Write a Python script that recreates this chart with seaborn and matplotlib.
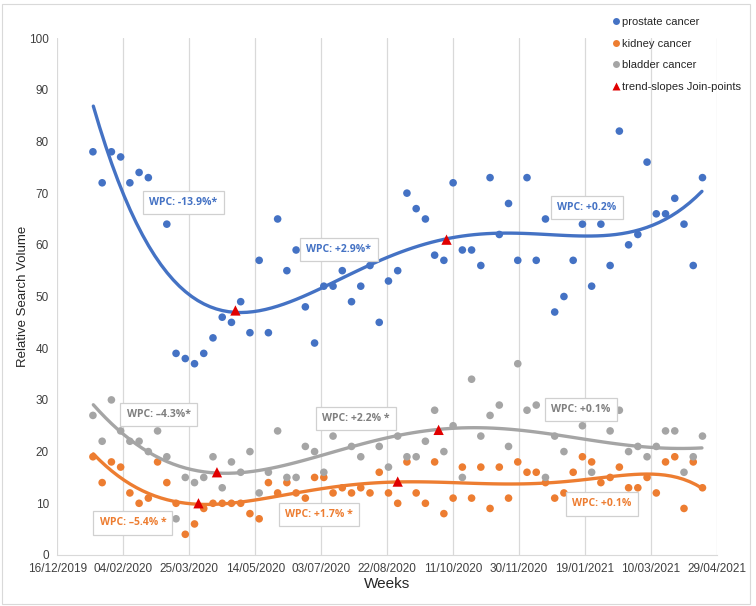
import pandas as pd
import matplotlib
matplotlib.use("Agg")
import matplotlib.pyplot as plt
from matplotlib.lines import Line2D
import seaborn as sns

# Weekly relative search volume, first week starts 12/01/2020
first_week = "2020-01-12"
prostate = [78, 72, 78, 77, 72, 74, 73, 68, 64, 39, 38, 37, 39, 42, 46, 45, 49, 43, 57, 43,
            65, 55, 59, 48, 41, 52, 52, 55, 49, 52, 56, 45, 53, 55, 70, 67, 65, 58, 57, 72,
            59, 59, 56, 73, 62, 68, 57, 73, 57, 65, 47, 50, 57, 64, 52, 64, 56, 82, 60, 62,
            76, 66, 66, 69, 64, 56, 73]
kidney = [19, 14, 18, 17, 12, 10, 11, 18, 14, 10, 4, 6, 9, 10, 10, 10, 10, 8, 7, 14,
          12, 14, 12, 11, 15, 15, 12, 13, 12, 13, 12, 16, 12, 10, 18, 12, 10, 18, 8, 11,
          17, 11, 17, 9, 17, 11, 18, 16, 16, 14, 11, 12, 16, 19, 18, 14, 15, 17, 13, 13,
          15, 12, 18, 19, 9, 18, 13]
bladder = [27, 22, 30, 24, 22, 22, 20, 24, 19, 7, 15, 14, 15, 19, 13, 18, 16, 20, 12, 16,
           24, 15, 15, 21, 20, 16, 23, 27, 21, 19, 25, 21, 17, 23, 19, 19, 22, 28, 20, 25,
           15, 34, 23, 27, 29, 21, 37, 28, 29, 15, 23, 20, 27, 25, 16, 28, 24, 28, 20, 21,
           19, 21, 24, 24, 16, 19, 23]

# Trend curves (day since 16/12/2019, value)
trend_prostate_day = [27.3, 40, 50, 62.7, 75.3, 100, 135.4, 176.3, 201.8, 236.9, 295.5,
                      341.4, 405.8, 439.7, 461.6, 481.6, 488.6]
trend_prostate = [86.6, 77.5, 68.8, 63.2, 57.5, 50, 47.3, 48.5, 52.1, 56.2, 61,
                  62.3, 62, 62.3, 65.3, 68.8, 70.2]
trend_bladder_day = [27.3, 48.3, 69.2, 89.2, 104.3, 121, 139.2, 159.8, 180.1, 201.5, 226.8,
                     252, 289.9, 315.2, 335.4, 356.8, 382.1, 407.3, 432.6, 452.8, 473, 488.6]
trend_bladder = [28.8, 24.4, 19.7, 17.1, 16.3, 15.9, 15.9, 16.8, 18.1, 19.4, 21,
                 22.7, 24.2, 24.6, 24.6, 24.1, 23.1, 22, 21.1, 20.9, 20.6, 20.7]
trend_kidney_day = [27.3, 48.3, 69.2, 90.5, 106.8, 127, 147.3, 172.5, 201.5, 226.8, 258.3,
                    289.9, 335.4, 369.5, 407.3, 437.7, 450.3, 473, 488.6]
trend_kidney = [19.4, 15.2, 12, 10, 9.7, 9.9, 10.5, 11.8, 13, 13.7, 14.0,
                13.9, 13.8, 14, 14.9, 15.5, 15.5, 14.9, 12.9]

# Join-points of the trend slopes
join_dates = ["2020-04-29", "2020-10-06", "2020-04-01", "2020-08-30", "2020-04-15", "2020-09-30"]
join_values = [47.3, 61.0, 10.0, 14.2, 16.0, 24.2]

# WPC annotations (text, series)
wpc_text = ["WPC: -13.9%*", "WPC: +2.9%*", "WPC: +0.2%",
            "WPC: \u20134.3%*", "WPC: +2.2% *", "WPC: +0.1%",
            "WPC: \u20135.4% *", "WPC: +1.7% *", "WPC: +0.1%"]
wpc_series = ["prostate"] * 3 + ["bladder"] * 3 + ["kidney"] * 3

tick_labels = ["16/12/2019", "04/02/2020", "25/03/2020", "14/05/2020", "03/07/2020",
               "22/08/2020", "11/10/2020", "30/11/2020", "19/01/2021", "10/03/2021",
               "29/04/2021"]

colors = {"prostate": "#4472C4", "kidney": "#ED7D31", "bladder": "#A5A5A5"}

# x axis as days since the first tick
origin = pd.to_datetime(tick_labels[0], dayfirst=True)
weeks = pd.date_range(first_week, periods=len(prostate), freq="7D")
df = pd.DataFrame({
    "day": (weeks - origin).days,
    "prostate": prostate,
    "kidney": kidney,
    "bladder": bladder,
})
trends = {
    "prostate": (trend_prostate_day, trend_prostate),
    "kidney": (trend_kidney_day, trend_kidney),
    "bladder": (trend_bladder_day, trend_bladder),
}
tick_pos = (pd.to_datetime(tick_labels, dayfirst=True) - origin).days
join_day = (pd.to_datetime(join_dates) - origin).days

sns.set_style("white")
plt.rcParams["font.family"] = ["Liberation Sans", "DejaVu Sans"]

fig = plt.figure(figsize=(7.56, 6.06), dpi=100)
ax = fig.add_axes([0.0758, 0.0842, 0.8726, 0.853])

for name in ["prostate", "kidney", "bladder"]:
    sns.scatterplot(data=df, x="day", y=name, color=colors[name], s=30,
                    edgecolor="none", ax=ax, zorder=3)
for name in ["prostate", "kidney", "bladder"]:
    tx, ty = trends[name]
    sns.regplot(x=tx, y=ty, order=6, ci=None, scatter=False,
                color=colors[name], line_kws={"lw": 2.4, "zorder": 4}, ax=ax)

ax.scatter(join_day, join_values, marker="^", color="#E00000", s=55, zorder=5,
           edgecolor="none")

# WPC boxes
box_pos = [(95.6, 68.2), (213.4, 59.1), (401.3, 67.2),
           (76.8, 27.2), (226.3, 26.4), (396.7, 28.1),
           (57.3, 6.2), (198.3, 7.8), (412.6, 9.9)]
for txt, ser, (bx, by) in zip(wpc_text, wpc_series, box_pos):
    ax.text(bx, by, txt, ha="center", va="center", fontsize=7.5, fontweight="bold",
            color=colors[ser] if ser != "bladder" else "#7F7F7F", zorder=6,
            family=["Open Sans", "DejaVu Sans"],
            bbox=dict(boxstyle="square,pad=0.6", fc="white", ec="#D0D0D0", lw=0.9))

ax.set_xlim(tick_pos[0], tick_pos[-1])
ax.set_ylim(0, 100)
ax.set_xticks(tick_pos)
ax.set_xticklabels(tick_labels)
ax.set_yticks(range(0, 101, 10))
ax.tick_params(axis="both", length=0, labelsize=8.5, labelcolor="#404040", pad=6)
ax.grid(axis="x", color="#D9D9D9", lw=0.9)
ax.grid(axis="y", visible=False)
for s in ["top", "right", "left"]:
    ax.spines[s].set_visible(False)
ax.spines["bottom"].set_color("#D9D9D9")
ax.set_xlabel("Weeks", fontsize=11, color="#262626", labelpad=1)
ax.set_ylabel("Relative Search Volume", fontsize=9.5, color="#262626", labelpad=0)

handles = [
    Line2D([], [], ls="none", marker="o", ms=5, mec="none", color=colors["prostate"]),
    Line2D([], [], ls="none", marker="o", ms=5, mec="none", color=colors["kidney"]),
    Line2D([], [], ls="none", marker="o", ms=5, mec="none", color=colors["bladder"]),
    Line2D([], [], ls="none", marker="^", ms=6, mec="none", color="#E00000"),
]
fig.legend(handles, ["prostate cancer", "kidney cancer", "bladder cancer",
                     "trend-slopes Join-points"],
           loc="upper left", bbox_to_anchor=(612 / 756, 1 - 17 / 606), frameon=False,
           fontsize=8, labelspacing=1.05, handlelength=0.7, handletextpad=0.2,
           borderpad=0, borderaxespad=0)

fig.patches.append(plt.Rectangle((2 / 756, 2 / 606), 748 / 756, 600 / 606,
                                 transform=fig.transFigure, fill=False,
                                 ec="#D9D9D9", lw=0.8))

fig.savefig("out.png", dpi=100)
